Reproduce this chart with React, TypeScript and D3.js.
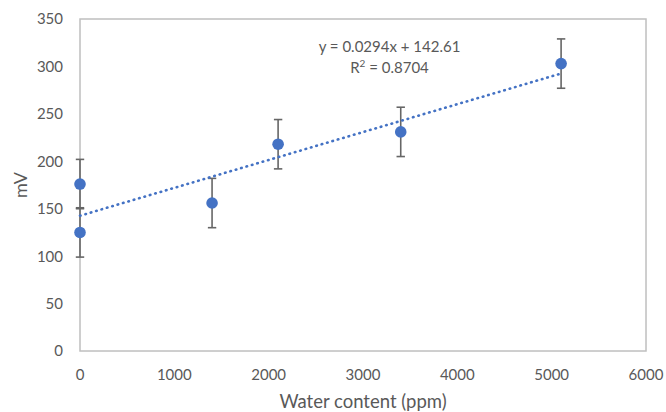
import React from "react";
import * as d3 from "d3";

const waterPpm = [0, 0, 1400, 2100, 3400, 5100];
const mV = [176, 125, 156, 218, 231, 303];
const errs = [26, 26, 26, 26, 26, 26];
const xTicks = [0, 1000, 2000, 3000, 4000, 5000, 6000];
const yTicks = [0, 50, 100, 150, 200, 250, 300, 350];
const trendSlope = 0.0294;
const trendIntercept = 142.61;
const trendRange = [0, 5100];
const eqLine1 = "y = 0.0294x + 142.61";
const eqR2 = "0.8704";
const xTitle = "Water content (ppm)";
const yTitle = "mV";

const W = 666;
const H = 412;
const L = 80, R = 646, T = 19, B = 351;
const FONT = "Lato, 'Open Sans', sans-serif";
const TXT = "#595959";
const BLUE = "#4472C4";

export default function App() {
  const x = d3.scaleLinear().domain([0, 6000]).range([L, R]);
  const y = d3.scaleLinear().domain([0, 350]).range([B, T]);
  const line = d3
    .line<number>()
    .x((d) => x(d))
    .y((d) => y(trendSlope * d + trendIntercept));
  const pts = waterPpm.map((w, i) => ({ w, v: mV[i], e: errs[i] }));
  return (
    <svg
      width={W}
      height={H}
      style={{ position: "absolute", left: 0, top: 0, fontFamily: FONT }}
    >
      <rect x={0} y={0} width={W} height={H} fill="#fff" />
      <rect
        x={L}
        y={T}
        width={R - L}
        height={B - T}
        fill="none"
        stroke="#BFBFBF"
        strokeWidth={1.5}
      />
      {yTicks.map((t) => (
        <text
          key={"y" + t}
          x={63}
          y={y(t)}
          dy="0.36em"
          textAnchor="end"
          fontSize={15}
          fill={TXT}
        >
          {t}
        </text>
      ))}
      {xTicks.map((t) => (
        <text
          key={"x" + t}
          x={x(t)}
          y={380}
          textAnchor="middle"
          fontSize={15}
          fill={TXT}
        >
          {t}
        </text>
      ))}
      <text
        x={x(3000)}
        y={408}
        textAnchor="middle"
        fontSize={18.5}
        fill={TXT}
      >
        {xTitle}
      </text>
      <text
        transform={`translate(26.5, ${(T + B) / 2}) rotate(-90)`}
        textAnchor="middle"
        fontSize={18}
        fill={TXT}
      >
        {yTitle}
      </text>
      {pts.map((p, i) => (
        <g key={"e" + i} stroke="#666666" strokeWidth={1.6}>
          <line x1={x(p.w)} x2={x(p.w)} y1={y(p.v - p.e)} y2={y(p.v + p.e)} />
          <line x1={x(p.w) - 4.2} x2={x(p.w) + 4.2} y1={y(p.v - p.e)} y2={y(p.v - p.e)} />
          <line x1={x(p.w) - 4.2} x2={x(p.w) + 4.2} y1={y(p.v + p.e)} y2={y(p.v + p.e)} />
        </g>
      ))}
      <path
        d={line(trendRange) || ""}
        fill="none"
        stroke={BLUE}
        strokeWidth={2.6}
        strokeDasharray="0.6 5"
        strokeLinecap="round"
      />
      {pts.map((p, i) => (
        <circle key={"p" + i} cx={x(p.w)} cy={y(p.v)} r={5.8} fill={BLUE} />
      ))}
      <text x={389.5} y={51.5} textAnchor="middle" fontSize={15} fill={TXT}>
        {eqLine1}
      </text>
      <text x={389.5} y={72.5} textAnchor="middle" fontSize={15} fill={TXT}>
        R<tspan dy={-6} fontSize={10}>2</tspan>
        <tspan dy={6}> = {eqR2}</tspan>
      </text>
    </svg>
  );
}
